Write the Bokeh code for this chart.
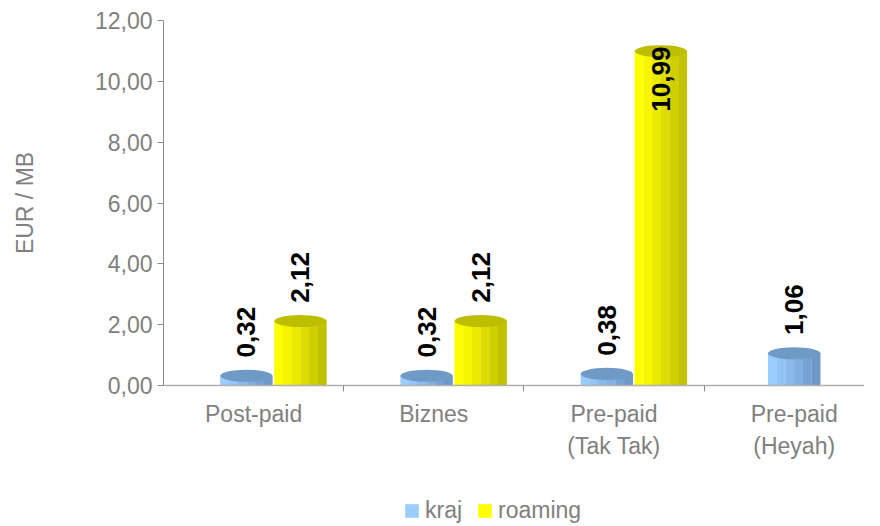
import math
from bokeh.plotting import figure
from bokeh.layouts import column
from bokeh.models import Range1d, FixedTicker, Legend, LegendItem, ColumnDataSource
from bokeh.transform import dodge
from bokeh.core.properties import value
from bokeh.embed import file_html
from bokeh.resources import INLINE

# ---- data ----
categories = ["Post-paid", "Biznes", "Pre-paid\n(Tak Tak)", "Pre-paid\n(Heyah)"]
kraj = [0.32, 0.32, 0.38, 1.06]
roaming = [2.12, 2.12, 10.99, None]
series_names = ["kraj", "roaming"]
y_ticks = [0, 2, 4, 6, 8, 10, 12]
y_title = "EUR / MB"

# ---- styles ----
FONT = "Liberation Sans"
GRAY = "#808080"
blue_shades = ["#99CCFF", "#92C4F6", "#89BAEC", "#80AFE0", "#76A3D4", "#6D98C8"]
blue_top = "#6F9AC6"
yellow_shades = ["#FFFF00", "#F6F600", "#EAEA00", "#DCDC00", "#CECE00", "#C2C200"]
yellow_top = "#BEBE00"
BAR_W = 0.29
YMAX = max(y_ticks)

p = figure(width=864, height=470, output_backend="svg", toolbar_location=None,
           x_range=Range1d(0, 3.89), y_range=Range1d(0, YMAX),
           min_border_left=163, min_border_right=0, min_border_top=20, min_border_bottom=85)
p.outline_line_color = None
p.xgrid.visible = False
p.ygrid.visible = False
p.background_fill_color = "white"


def build(vals, which):
    xs, tops, labels, ly, al = [], [], [], [], []
    for i, v in enumerate(vals):
        if v is None:
            continue
        paired = kraj[i] is not None and roaming[i] is not None
        if paired:
            off = -0.04 if which == 0 else 0.26
        else:
            off = 0.0
        xs.append(i + 0.5 + off)
        tops.append(v)
        labels.append(f"{v:.2f}".replace(".", ","))
        if v + 2.6 > YMAX:
            ly.append(v + 0.15)
            al.append("right")
        else:
            ly.append(v + 0.6)
            al.append("left")
    return ColumnDataSource(dict(x=xs, top=tops, label=labels, ly=ly, align=al))


# legend strip (separate small figure below the chart)
lg = figure(width=864, height=54, output_backend="svg", toolbar_location=None,
            x_range=Range1d(0, 1), y_range=Range1d(0, 1),
            min_border_left=163, min_border_right=0, min_border_top=0, min_border_bottom=0)
lg.axis.visible = False
lg.grid.visible = False
lg.outline_line_color = None

legend_items = []
for k, (vals, shades, topc) in enumerate([(kraj, blue_shades, blue_top),
                                           (roaming, yellow_shades, yellow_top)]):
    src = build(vals, k)
    n = len(shades)
    sw = BAR_W / n
    for j, c in enumerate(shades):
        p.vbar(x=dodge("x", (j - (n - 1) / 2) * sw), top="top", bottom=0, width=sw * 1.02,
               fill_color=c, line_color=None, source=src)
    p.ellipse(x="x", y="top", width=BAR_W, height=0.4, fill_color=topc,
              line_color=None, source=src)
    p.text(x="x", y="ly", text="label", angle=math.pi / 2, text_align="align",
           text_baseline="middle", text_font=value(FONT), text_font_style="bold",
           text_font_size="26px", text_color="black", source=src)
    # hidden carrier renderer (outside the strip's range) that supplies the legend swatch
    swatch = lg.vbar(x=[-5], top=[-5], bottom=[-6], width=0.1,
                     fill_color=shades[0], line_color=None)
    legend_items.append(LegendItem(label=series_names[k], renderers=[swatch]))

# y axis
ya = p.yaxis[0]
ya.ticker = FixedTicker(ticks=y_ticks, minor_ticks=[])
ya.major_label_overrides = {t: f"{t:.2f}".replace(".", ",") for t in y_ticks}
ya.major_label_text_font = FONT
ya.major_label_text_font_size = "23px"
ya.major_label_text_color = GRAY
ya.major_label_standoff = 5
ya.major_tick_out = 6
ya.major_tick_in = 0
ya.minor_tick_out = 0
ya.minor_tick_in = 0
ya.axis_line_color = "#8A8A8A"
ya.major_tick_line_color = "#8A8A8A"
ya.axis_label = y_title
ya.axis_label_text_font = FONT
ya.axis_label_text_font_size = "23px"
ya.axis_label_text_font_style = "normal"
ya.axis_label_text_color = GRAY
ya.axis_label_standoff = 54

# x axis
xa = p.xaxis[0]
centers = [i + 0.5 for i in range(len(categories))]
xa.ticker = FixedTicker(ticks=centers, minor_ticks=[i for i in range(1, len(categories))])
xa.major_label_overrides = {c: lab for c, lab in zip(centers, categories)}
xa.major_label_text_font = FONT
xa.major_label_text_font_size = "23px"
xa.major_label_text_color = GRAY
xa.major_label_text_line_height = 1.25
xa.major_label_standoff = 9
xa.major_tick_line_color = None
xa.major_tick_out = 0
xa.major_tick_in = 0
xa.minor_tick_out = 6
xa.minor_tick_in = 0
xa.minor_tick_line_color = "#8A8A8A"
xa.axis_line_color = "#B0B0B0"
xa.axis_line_width = 1.5

legend = Legend(items=legend_items, orientation="horizontal", location=(240, 0),
                border_line_color=None, background_fill_alpha=0,
                label_text_font=FONT, label_text_font_size="23px", label_text_color=GRAY,
                glyph_width=17, glyph_height=17, spacing=14, label_standoff=5,
                padding=0, margin=0)
lg.add_layout(legend, "center")

layout = column(p, lg, spacing=0)
open("out.html", "w").write(file_html(layout, INLINE))
